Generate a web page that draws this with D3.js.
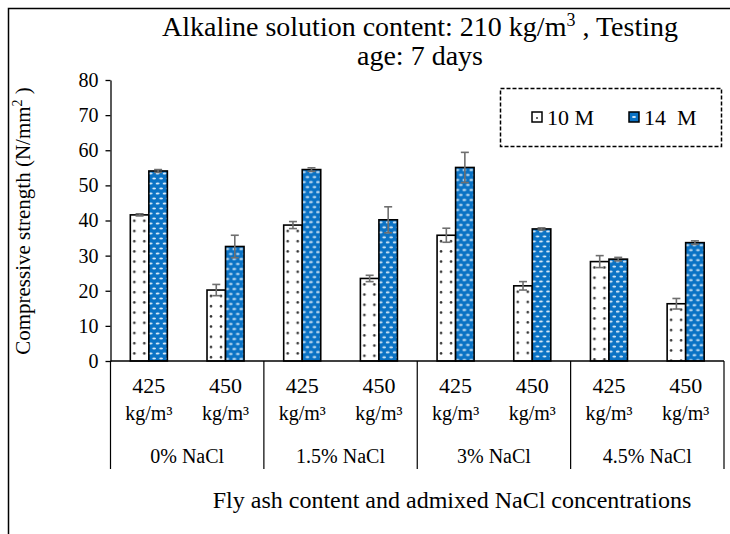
<!DOCTYPE html>
<html><head><meta charset="utf-8">
<script src="https://cdn.jsdelivr.net/npm/d3@7"></script>
</head><body style="margin:0;background:#fff">
<script>
const groups = ["0% NaCl","1.5% NaCl","3% NaCl","4.5% NaCl"];
const flyAsh = ["425","450"];
const seriesNames = ["10 M","14  M"];
const values10M = [41.6, 20.2, 38.7, 23.5, 35.8, 21.4, 28.3, 16.3];
const values14M = [54.1, 32.6, 54.5, 40.2, 55.1, 37.6, 29.0, 33.7];
const err10M = [0.3, 1.6, 1.0, 0.9, 2.0, 1.2, 1.7, 1.5];
const err14M = [0.4, 3.2, 0.5, 3.7, 4.3, 0.3, 0.5, 0.5];
const yTicks = [0,10,20,30,40,50,60,70,80];

const FONT='Liberation Serif';
const W=730,H=534;
const svg=d3.select("body").append("svg").attr("width",W).attr("height",H).style("display","block");
const defs=svg.append("defs");

// frame
svg.append("path").attr("d","M8.5,534 V8.5 H730").attr("fill","none").attr("stroke","#000").attr("stroke-width",1.5);

const x0=d3.scaleBand().domain(groups).range([110.5,724]).padding(0);
const x1=d3.scaleBand().domain(flyAsh).range([0,x0.bandwidth()]).padding(0);
const x2=d3.scaleBand().domain(seriesNames).range([0,x1.bandwidth()]).paddingInner(0).paddingOuter(1.07);
const y=d3.scaleLinear().domain([0,80]).range([361,80]);

// title
const t=svg.append("text").attr("x",420).attr("y",36).attr("text-anchor","middle").style("font-size","28px");
t.append("tspan").text("Alkaline solution content: 210 kg/m");
t.append("tspan").attr("dy",-10).style("font-size","18px").text("3");
t.append("tspan").attr("dy",10).text(" ,  Testing");
svg.append("text").attr("x",420).attr("y",65).attr("text-anchor","middle").style("font-size","28px").text("age: 7 days");

// y axis
const ya=svg.append("g").attr("transform","translate(110.5,0)")
 .call(d3.axisLeft(y).tickValues(yTicks).tickSize(5).tickPadding(7).tickSizeOuter(0));
ya.attr("font-family",null).attr("font-size",null);
ya.select(".domain").attr("stroke","#000").attr("stroke-width",1.3);
ya.selectAll(".tick line").attr("stroke","#000").attr("stroke-width",1.3);
ya.selectAll(".tick text").style("font-size","20px").attr("fill","#000");

// y title
const yt=svg.append("text").attr("transform","translate(30,221) rotate(-90)").attr("text-anchor","middle").style("font-size","21px");
yt.append("tspan").text("Compressive strength (N/mm");
yt.append("tspan").attr("dy",-8).style("font-size","14px").text("2");
yt.append("tspan").attr("dy",8).text(" )");

// data rows
const rows=[];
groups.forEach((g,gi)=>flyAsh.forEach((f,fi)=>{
  const i=gi*2+fi;
  rows.push({g,f,i,s:seriesNames[0],v:values10M[i],e:err10M[i],k:0});
  rows.push({g,f,i,s:seriesNames[1],v:values14M[i],e:err14M[i],k:1});
}));
const bx=d=>x0(d.g)+x1(d.f)+x2(d.s);

rows.forEach((d,j)=>{
  const px=bx(d), py=y(d.v);
  if(d.k===0){
    const p=defs.append("pattern").attr("id","p"+j).attr("patternUnits","userSpaceOnUse")
      .attr("x",px).attr("y",py).attr("width",10).attr("height",10.2);
    p.append("rect").attr("width",10).attr("height",10.2).attr("fill","#fff");
    p.append("circle").attr("cx",4).attr("cy",6).attr("r",1.3).attr("fill","#333");
  } else {
    const p=defs.append("pattern").attr("id","p"+j).attr("patternUnits","userSpaceOnUse")
      .attr("x",px).attr("y",py).attr("width",7).attr("height",10);
    p.append("rect").attr("width",7).attr("height",10).attr("fill","#0a72c4");
    p.append("ellipse").attr("cx",1.8).attr("cy",2.5).attr("rx",1.9).attr("ry",0.95).attr("fill","#dcecf9");
    p.append("ellipse").attr("cx",5.3).attr("cy",7.5).attr("rx",1.9).attr("ry",0.95).attr("fill","#dcecf9");
  }
  d.pid="p"+j;
});

svg.append("g").selectAll("rect").data(rows).join("rect")
 .attr("x",d=>bx(d)).attr("y",d=>y(d.v)).attr("width",x2.bandwidth()).attr("height",d=>y(0)-y(d.v))
 .attr("fill",d=>`url(#${d.pid})`).attr("stroke","#000").attr("stroke-width",1.6);

// error bars
const eg=svg.append("g").attr("stroke","#6f6f6f").attr("stroke-width",1.6).attr("fill","none");
rows.forEach(d=>{
  const cx=bx(d)+x2.bandwidth()/2;
  eg.append("line").attr("x1",cx).attr("x2",cx).attr("y1",y(d.v+d.e)).attr("y2",y(d.v-d.e));
  eg.append("line").attr("x1",cx-4).attr("x2",cx+4).attr("y1",y(d.v+d.e)).attr("y2",y(d.v+d.e));
  eg.append("line").attr("x1",cx-4).attr("x2",cx+4).attr("y1",y(d.v-d.e)).attr("y2",y(d.v-d.e));
});

// x axis baseline and separators
svg.append("line").attr("x1",110.5).attr("x2",724).attr("y1",y(0)).attr("y2",y(0)).attr("stroke","#000").attr("stroke-width",1.3);
const seps=groups.map(g=>x0(g)).concat([x0.range()[1]]);
svg.append("g").selectAll("line").data(seps).join("line")
 .attr("x1",d=>d).attr("x2",d=>d).attr("y1",y(0)).attr("y2",469).attr("stroke","#000").attr("stroke-width",1.2);

// category labels
const cl=svg.append("g").attr("text-anchor","middle");
groups.forEach(g=>flyAsh.forEach(f=>{
  const cx=x0(g)+x1(f)+x1.bandwidth()/2;
  cl.append("text").attr("x",cx).attr("y",393).style("font-size","22px").text(f);
  cl.append("text").attr("x",cx).attr("y",420).style("font-size","20px").text("kg/m³");
}));
groups.forEach(g=>{
  cl.append("text").attr("x",x0(g)+x0.bandwidth()/2).attr("y",463).style("font-size","20px").text(g);
});

svg.append("text").attr("x",452).attr("y",508).attr("text-anchor","middle").style("font-size","24px")
 .text("Fly ash content and admixed NaCl concentrations");

// legend
svg.append("rect").attr("x",500.5).attr("y",88.5).attr("width",221).attr("height",58)
 .attr("fill","#fff").attr("stroke","#000").attr("stroke-width",1.5).attr("stroke-dasharray","4,2");
const lg=[{s:seriesNames[0],x:532,k:0},{s:seriesNames[1],x:629,k:1}];
lg.forEach((d,i)=>{
  const p=defs.append("pattern").attr("id","lg"+i).attr("patternUnits","userSpaceOnUse").attr("x",d.x).attr("y",112).attr("width",10).attr("height",10);
  if(d.k===0){p.append("rect").attr("width",10).attr("height",10).attr("fill","#fff");p.append("circle").attr("cx",5).attr("cy",6).attr("r",1).attr("fill","#333");}
  else{p.append("rect").attr("width",10).attr("height",10).attr("fill","#0a72c4");p.append("ellipse").attr("cx",5).attr("cy",5).attr("rx",2).attr("ry",1).attr("fill","#dcecf9");}
  svg.append("rect").attr("x",d.x).attr("y",112).attr("width",10).attr("height",10).attr("fill",`url(#lg${i})`).attr("stroke","#000").attr("stroke-width",1.5);
  svg.append("text").attr("x",d.x+15).attr("y",125).style("font-size","22px").style("white-space","pre").text(d.s);
});

svg.selectAll("text").style("font-family",FONT).attr("fill","#000");
</script>
</body></html>
